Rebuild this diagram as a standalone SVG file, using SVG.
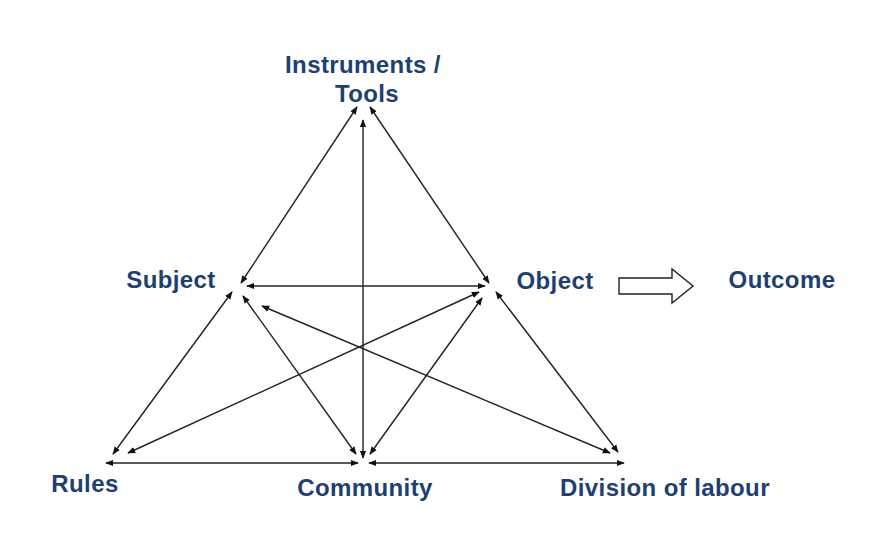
<svg xmlns="http://www.w3.org/2000/svg" width="870" height="556" viewBox="0 0 870 556">
<style>
text{font-family:"Liberation Sans",Arial,sans-serif;font-weight:bold;font-size:24px;letter-spacing:0.4px;fill:#1d3f72}
.c line{stroke:#222;stroke-width:1.4;marker-start:url(#a);marker-end:url(#a)}
</style>
<defs><marker id="a" viewBox="0 0 10 10" refX="9" refY="5" markerWidth="8" markerHeight="8" orient="auto-start-reverse" markerUnits="userSpaceOnUse"><path d="M0,1 L10,5 L0,9 z" fill="#111"/></marker></defs>
<rect width="870" height="556" fill="#fff"/>
<g id="tools"><text x="363" y="73" text-anchor="middle">Instruments /</text><text x="367" y="102" text-anchor="middle">Tools</text></g>
<g id="subject"><text x="171" y="288" text-anchor="middle">Subject</text></g>
<g id="object"><text x="555" y="289" text-anchor="middle">Object</text></g>
<g id="outcome"><text x="782" y="288" text-anchor="middle">Outcome</text></g>
<g id="rules"><text x="85" y="492" text-anchor="middle">Rules</text></g>
<g id="community"><text x="365" y="496" text-anchor="middle">Community</text></g>
<g id="division"><text x="665" y="496" text-anchor="middle">Division of labour</text></g>
<g id="arrow"><path d="M619,278 H672 V269 L693,286 L672,303 V294 H619 Z" fill="#fff" stroke="#222" stroke-width="1.4"/></g>
<g class="c">
<line x1="241" y1="283" x2="357" y2="107"/>
<line x1="489" y1="283" x2="370" y2="107"/>
<line x1="363" y1="120" x2="363" y2="458"/>
<line x1="247" y1="286" x2="485" y2="286"/>
<line x1="113" y1="454" x2="232" y2="292"/>
<line x1="356" y1="454" x2="243" y2="296"/>
<line x1="610" y1="453" x2="262" y2="306"/>
<line x1="128" y1="453" x2="479" y2="292"/>
<line x1="370" y1="454" x2="482" y2="298"/>
<line x1="618" y1="452" x2="496" y2="292"/>
<line x1="106" y1="463" x2="358" y2="463"/>
<line x1="369" y1="463" x2="624" y2="463"/>
</g>
</svg>
